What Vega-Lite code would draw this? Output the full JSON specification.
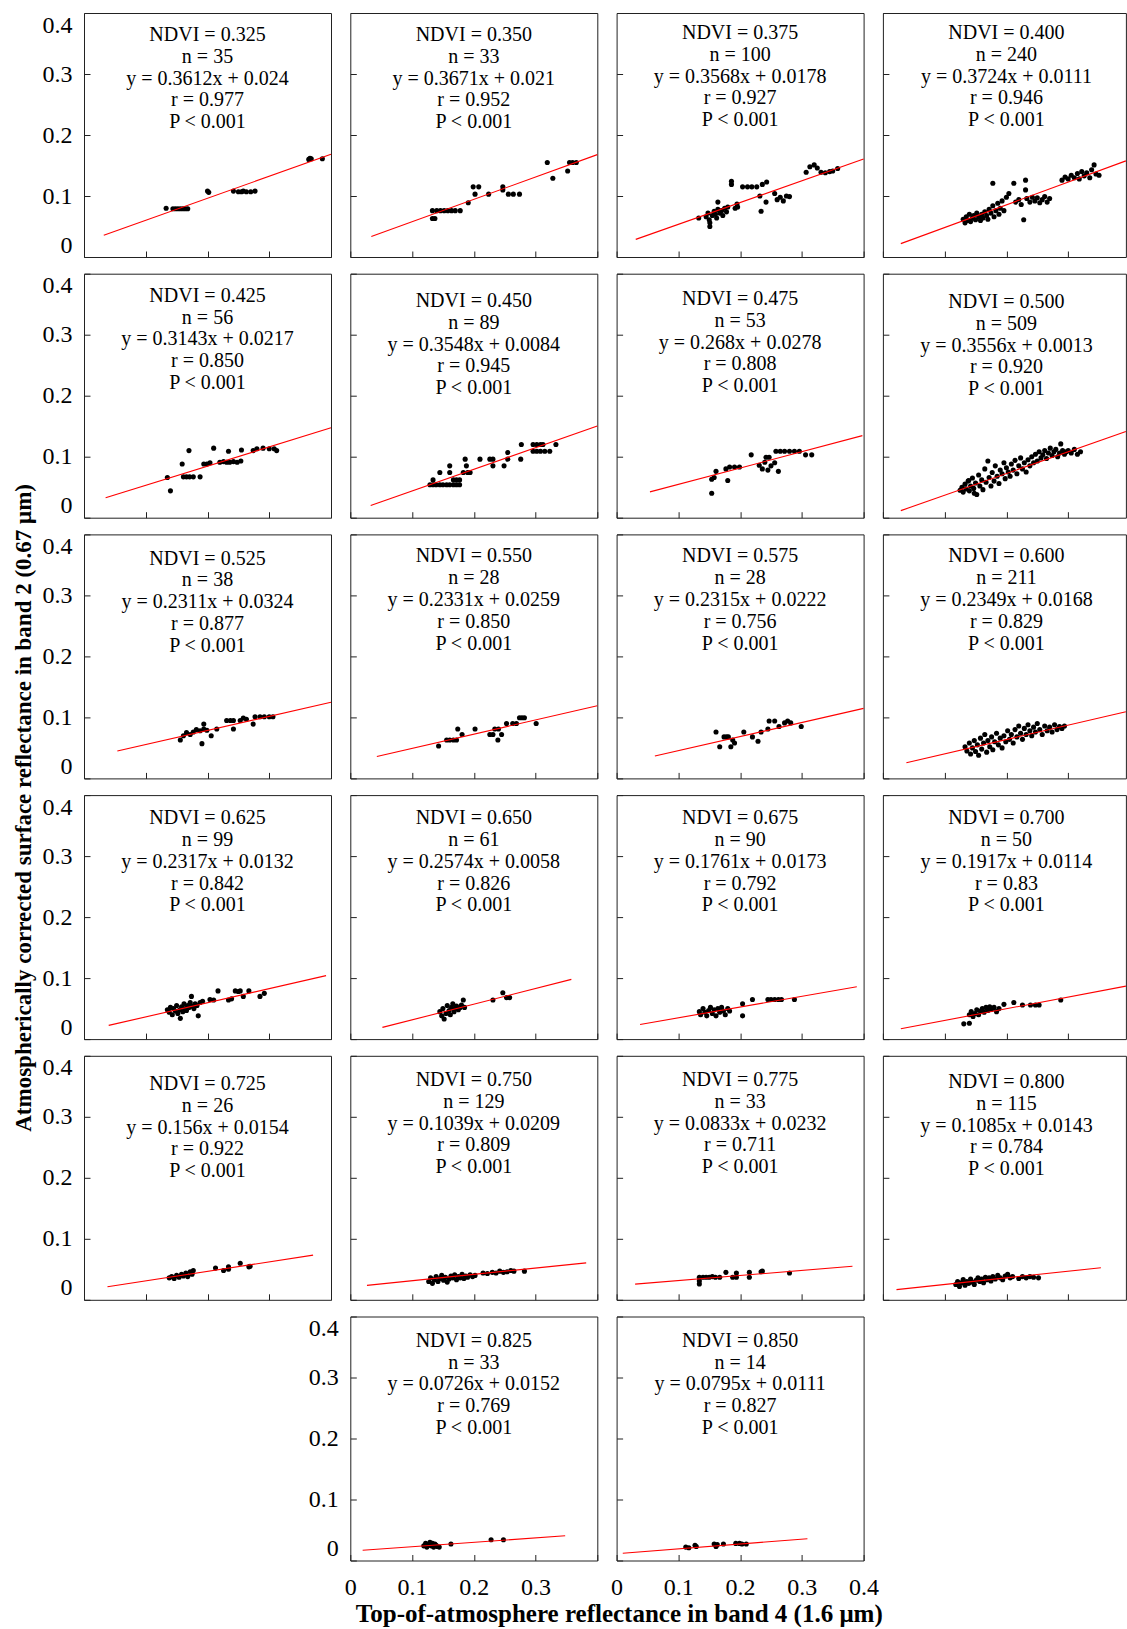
{"$schema":"https://vega.github.io/schema/vega-lite/v6.json","padding":{"left":11,"top":12,"right":0,"bottom":0},"autosize":{"type":"pad"},"bounds":"flush","columns":4,"spacing":{"row":16.7,"column":19.3},
"datasets":{
"lab":[
{"p":"0.325","t":"NDVI = 0.325\nn = 35\ny = 0.3612x + 0.024\nr = 0.977\nP < 0.001"},
{"p":"0.350","t":"NDVI = 0.350\nn = 33\ny = 0.3671x + 0.021\nr = 0.952\nP < 0.001"},
{"p":"0.375","t":"NDVI = 0.375\nn = 100\ny = 0.3568x + 0.0178\nr = 0.927\nP < 0.001"},
{"p":"0.400","t":"NDVI = 0.400\nn = 240\ny = 0.3724x + 0.0111\nr = 0.946\nP < 0.001"},
{"p":"0.425","t":"NDVI = 0.425\nn = 56\ny = 0.3143x + 0.0217\nr = 0.850\nP < 0.001"},
{"p":"0.450","t":"NDVI = 0.450\nn = 89\ny = 0.3548x + 0.0084\nr = 0.945\nP < 0.001"},
{"p":"0.475","t":"NDVI = 0.475\nn = 53\ny = 0.268x + 0.0278\nr = 0.808\nP < 0.001"},
{"p":"0.500","t":"NDVI = 0.500\nn = 509\ny = 0.3556x + 0.0013\nr = 0.920\nP < 0.001"},
{"p":"0.525","t":"NDVI = 0.525\nn = 38\ny = 0.2311x + 0.0324\nr = 0.877\nP < 0.001"},
{"p":"0.550","t":"NDVI = 0.550\nn = 28\ny = 0.2331x + 0.0259\nr = 0.850\nP < 0.001"},
{"p":"0.575","t":"NDVI = 0.575\nn = 28\ny = 0.2315x + 0.0222\nr = 0.756\nP < 0.001"},
{"p":"0.600","t":"NDVI = 0.600\nn = 211\ny = 0.2349x + 0.0168\nr = 0.829\nP < 0.001"},
{"p":"0.625","t":"NDVI = 0.625\nn = 99\ny = 0.2317x + 0.0132\nr = 0.842\nP < 0.001"},
{"p":"0.650","t":"NDVI = 0.650\nn = 61\ny = 0.2574x + 0.0058\nr = 0.826\nP < 0.001"},
{"p":"0.675","t":"NDVI = 0.675\nn = 90\ny = 0.1761x + 0.0173\nr = 0.792\nP < 0.001"},
{"p":"0.700","t":"NDVI = 0.700\nn = 50\ny = 0.1917x + 0.0114\nr = 0.83\nP < 0.001"},
{"p":"0.725","t":"NDVI = 0.725\nn = 26\ny = 0.156x + 0.0154\nr = 0.922\nP < 0.001"},
{"p":"0.750","t":"NDVI = 0.750\nn = 129\ny = 0.1039x + 0.0209\nr = 0.809\nP < 0.001"},
{"p":"0.775","t":"NDVI = 0.775\nn = 33\ny = 0.0833x + 0.0232\nr = 0.711\nP < 0.001"},
{"p":"0.800","t":"NDVI = 0.800\nn = 115\ny = 0.1085x + 0.0143\nr = 0.784\nP < 0.001"},
{"p":"0.825","t":"NDVI = 0.825\nn = 33\ny = 0.0726x + 0.0152\nr = 0.769\nP < 0.001"},
{"p":"0.850","t":"NDVI = 0.850\nn = 14\ny = 0.0795x + 0.0111\nr = 0.827\nP < 0.001"}],
"fit":[
{"p":"0.325","x1":0.032,"y1":0.0356,"x2":0.4,"y2":0.1685},
{"p":"0.350","x1":0.034,"y1":0.0335,"x2":0.4,"y2":0.1678},
{"p":"0.375","x1":0.031,"y1":0.0289,"x2":0.4,"y2":0.1605},
{"p":"0.400","x1":0.029,"y1":0.0219,"x2":0.3935,"y2":0.1576},
{"p":"0.425","x1":0.035,"y1":0.0327,"x2":0.4,"y2":0.1474},
{"p":"0.450","x1":0.033,"y1":0.0201,"x2":0.4,"y2":0.1503},
{"p":"0.475","x1":0.054,"y1":0.0423,"x2":0.398,"y2":0.1345},
{"p":"0.500","x1":0.029,"y1":0.0116,"x2":0.3935,"y2":0.1412},
{"p":"0.525","x1":0.054,"y1":0.0449,"x2":0.4,"y2":0.1248},
{"p":"0.550","x1":0.043,"y1":0.0359,"x2":0.4,"y2":0.1191},
{"p":"0.575","x1":0.062,"y1":0.0366,"x2":0.4,"y2":0.1148},
{"p":"0.600","x1":0.038,"y1":0.0257,"x2":0.3935,"y2":0.1092},
{"p":"0.625","x1":0.040,"y1":0.0225,"x2":0.392,"y2":0.104},
{"p":"0.650","x1":0.052,"y1":0.0192,"x2":0.358,"y2":0.0979},
{"p":"0.675","x1":0.038,"y1":0.024,"x2":0.389,"y2":0.0858},
{"p":"0.700","x1":0.029,"y1":0.017,"x2":0.3935,"y2":0.0868},
{"p":"0.725","x1":0.038,"y1":0.0213,"x2":0.371,"y2":0.0733},
{"p":"0.750","x1":0.027,"y1":0.0237,"x2":0.382,"y2":0.0606},
{"p":"0.775","x1":0.030,"y1":0.0257,"x2":0.382,"y2":0.055},
{"p":"0.800","x1":0.022,"y1":0.0167,"x2":0.353,"y2":0.0526},
{"p":"0.825","x1":0.020,"y1":0.0167,"x2":0.348,"y2":0.0405},
{"p":"0.850","x1":0.010,"y1":0.0119,"x2":0.309,"y2":0.0357}],
"pts":[
{"p":"0.325","x":0.133,"y":0.080},{"p":"0.325","x":0.144,"y":0.079},{"p":"0.325","x":0.148,"y":0.079},{"p":"0.325","x":0.152,"y":0.079},{"p":"0.325","x":0.156,"y":0.079},{"p":"0.325","x":0.160,"y":0.079},{"p":"0.325","x":0.164,"y":0.079},{"p":"0.325","x":0.168,"y":0.079},{"p":"0.325","x":0.200,"y":0.108},{"p":"0.325","x":0.202,"y":0.106},{"p":"0.325","x":0.242,"y":0.108},{"p":"0.325","x":0.250,"y":0.107},{"p":"0.325","x":0.255,"y":0.107},{"p":"0.325","x":0.258,"y":0.108},{"p":"0.325","x":0.263,"y":0.107},{"p":"0.325","x":0.270,"y":0.107},{"p":"0.325","x":0.277,"y":0.108},{"p":"0.325","x":0.364,"y":0.160},{"p":"0.325","x":0.366,"y":0.162},{"p":"0.325","x":0.368,"y":0.161},{"p":"0.325","x":0.386,"y":0.161},
{"p":"0.350","x":0.133,"y":0.076},{"p":"0.350","x":0.140,"y":0.076},{"p":"0.350","x":0.146,"y":0.076},{"p":"0.350","x":0.152,"y":0.076},{"p":"0.350","x":0.158,"y":0.076},{"p":"0.350","x":0.164,"y":0.076},{"p":"0.350","x":0.170,"y":0.076},{"p":"0.350","x":0.178,"y":0.076},{"p":"0.350","x":0.133,"y":0.063},{"p":"0.350","x":0.137,"y":0.063},{"p":"0.350","x":0.191,"y":0.089},{"p":"0.350","x":0.199,"y":0.115},{"p":"0.350","x":0.208,"y":0.115},{"p":"0.350","x":0.202,"y":0.103},{"p":"0.350","x":0.224,"y":0.103},{"p":"0.350","x":0.247,"y":0.115},{"p":"0.350","x":0.247,"y":0.110},{"p":"0.350","x":0.256,"y":0.103},{"p":"0.350","x":0.264,"y":0.103},{"p":"0.350","x":0.274,"y":0.103},{"p":"0.350","x":0.319,"y":0.155},{"p":"0.350","x":0.328,"y":0.129},{"p":"0.350","x":0.352,"y":0.141},{"p":"0.350","x":0.355,"y":0.155},{"p":"0.350","x":0.360,"y":0.155},{"p":"0.350","x":0.366,"y":0.155},
{"p":"0.375","x":0.133,"y":0.064},{"p":"0.375","x":0.145,"y":0.066},{"p":"0.375","x":0.148,"y":0.072},{"p":"0.375","x":0.150,"y":0.061},{"p":"0.375","x":0.151,"y":0.056},{"p":"0.375","x":0.151,"y":0.050},{"p":"0.375","x":0.155,"y":0.068},{"p":"0.375","x":0.158,"y":0.075},{"p":"0.375","x":0.160,"y":0.070},{"p":"0.375","x":0.162,"y":0.064},{"p":"0.375","x":0.164,"y":0.078},{"p":"0.375","x":0.164,"y":0.090},{"p":"0.375","x":0.167,"y":0.072},{"p":"0.375","x":0.170,"y":0.076},{"p":"0.375","x":0.172,"y":0.068},{"p":"0.375","x":0.175,"y":0.080},{"p":"0.375","x":0.178,"y":0.074},{"p":"0.375","x":0.180,"y":0.082},{"p":"0.375","x":0.186,"y":0.124},{"p":"0.375","x":0.186,"y":0.119},{"p":"0.375","x":0.192,"y":0.080},{"p":"0.375","x":0.195,"y":0.087},{"p":"0.375","x":0.196,"y":0.082},{"p":"0.375","x":0.204,"y":0.115},{"p":"0.375","x":0.212,"y":0.115},{"p":"0.375","x":0.219,"y":0.115},{"p":"0.375","x":0.227,"y":0.115},{"p":"0.375","x":0.236,"y":0.119},{"p":"0.375","x":0.243,"y":0.123},{"p":"0.375","x":0.232,"y":0.100},{"p":"0.375","x":0.234,"y":0.075},{"p":"0.375","x":0.242,"y":0.090},{"p":"0.375","x":0.256,"y":0.104},{"p":"0.375","x":0.260,"y":0.094},{"p":"0.375","x":0.265,"y":0.098},{"p":"0.375","x":0.270,"y":0.092},{"p":"0.375","x":0.275,"y":0.100},{"p":"0.375","x":0.280,"y":0.099},{"p":"0.375","x":0.307,"y":0.139},{"p":"0.375","x":0.313,"y":0.148},{"p":"0.375","x":0.320,"y":0.151},{"p":"0.375","x":0.325,"y":0.146},{"p":"0.375","x":0.331,"y":0.139},{"p":"0.375","x":0.338,"y":0.138},{"p":"0.375","x":0.345,"y":0.140},{"p":"0.375","x":0.350,"y":0.141},{"p":"0.375","x":0.358,"y":0.145},
{"p":"0.400","x":0.130,"y":0.062},{"p":"0.400","x":0.133,"y":0.056},{"p":"0.400","x":0.135,"y":0.066},{"p":"0.400","x":0.138,"y":0.060},{"p":"0.400","x":0.140,"y":0.070},{"p":"0.400","x":0.142,"y":0.058},{"p":"0.400","x":0.145,"y":0.064},{"p":"0.400","x":0.147,"y":0.068},{"p":"0.400","x":0.150,"y":0.061},{"p":"0.400","x":0.152,"y":0.072},{"p":"0.400","x":0.155,"y":0.066},{"p":"0.400","x":0.158,"y":0.060},{"p":"0.400","x":0.160,"y":0.070},{"p":"0.400","x":0.162,"y":0.064},{"p":"0.400","x":0.165,"y":0.074},{"p":"0.400","x":0.168,"y":0.068},{"p":"0.400","x":0.170,"y":0.062},{"p":"0.400","x":0.172,"y":0.078},{"p":"0.400","x":0.175,"y":0.072},{"p":"0.400","x":0.178,"y":0.084},{"p":"0.400","x":0.178,"y":0.121},{"p":"0.400","x":0.180,"y":0.066},{"p":"0.400","x":0.183,"y":0.076},{"p":"0.400","x":0.186,"y":0.088},{"p":"0.400","x":0.188,"y":0.070},{"p":"0.400","x":0.190,"y":0.080},{"p":"0.400","x":0.193,"y":0.092},{"p":"0.400","x":0.196,"y":0.076},{"p":"0.400","x":0.200,"y":0.098},{"p":"0.400","x":0.204,"y":0.104},{"p":"0.400","x":0.212,"y":0.121},{"p":"0.400","x":0.215,"y":0.090},{"p":"0.400","x":0.220,"y":0.094},{"p":"0.400","x":0.224,"y":0.086},{"p":"0.400","x":0.228,"y":0.061},{"p":"0.400","x":0.231,"y":0.126},{"p":"0.400","x":0.231,"y":0.110},{"p":"0.400","x":0.233,"y":0.096},{"p":"0.400","x":0.238,"y":0.090},{"p":"0.400","x":0.242,"y":0.098},{"p":"0.400","x":0.246,"y":0.092},{"p":"0.400","x":0.250,"y":0.097},{"p":"0.400","x":0.254,"y":0.089},{"p":"0.400","x":0.258,"y":0.094},{"p":"0.400","x":0.262,"y":0.099},{"p":"0.400","x":0.266,"y":0.090},{"p":"0.400","x":0.270,"y":0.096},{"p":"0.400","x":0.290,"y":0.126},{"p":"0.400","x":0.295,"y":0.131},{"p":"0.400","x":0.300,"y":0.128},{"p":"0.400","x":0.305,"y":0.134},{"p":"0.400","x":0.310,"y":0.130},{"p":"0.400","x":0.315,"y":0.137},{"p":"0.400","x":0.318,"y":0.128},{"p":"0.400","x":0.322,"y":0.140},{"p":"0.400","x":0.326,"y":0.133},{"p":"0.400","x":0.330,"y":0.138},{"p":"0.400","x":0.335,"y":0.130},{"p":"0.400","x":0.338,"y":0.143},{"p":"0.400","x":0.342,"y":0.151},{"p":"0.400","x":0.345,"y":0.136},{"p":"0.400","x":0.350,"y":0.134},
{"p":"0.425","x":0.135,"y":0.066},{"p":"0.425","x":0.140,"y":0.044},{"p":"0.425","x":0.159,"y":0.088},{"p":"0.425","x":0.161,"y":0.067},{"p":"0.425","x":0.166,"y":0.067},{"p":"0.425","x":0.171,"y":0.067},{"p":"0.425","x":0.177,"y":0.067},{"p":"0.425","x":0.170,"y":0.110},{"p":"0.425","x":0.188,"y":0.067},{"p":"0.425","x":0.194,"y":0.088},{"p":"0.425","x":0.199,"y":0.088},{"p":"0.425","x":0.204,"y":0.090},{"p":"0.425","x":0.210,"y":0.114},{"p":"0.425","x":0.220,"y":0.091},{"p":"0.425","x":0.226,"y":0.092},{"p":"0.425","x":0.231,"y":0.091},{"p":"0.425","x":0.236,"y":0.091},{"p":"0.425","x":0.242,"y":0.092},{"p":"0.425","x":0.248,"y":0.091},{"p":"0.425","x":0.254,"y":0.093},{"p":"0.425","x":0.234,"y":0.109},{"p":"0.425","x":0.255,"y":0.111},{"p":"0.425","x":0.274,"y":0.110},{"p":"0.425","x":0.280,"y":0.113},{"p":"0.425","x":0.290,"y":0.114},{"p":"0.425","x":0.300,"y":0.113},{"p":"0.425","x":0.308,"y":0.113},{"p":"0.425","x":0.312,"y":0.110},
{"p":"0.450","x":0.129,"y":0.054},{"p":"0.450","x":0.134,"y":0.054},{"p":"0.450","x":0.139,"y":0.054},{"p":"0.450","x":0.145,"y":0.054},{"p":"0.450","x":0.150,"y":0.054},{"p":"0.450","x":0.156,"y":0.054},{"p":"0.450","x":0.161,"y":0.054},{"p":"0.450","x":0.167,"y":0.054},{"p":"0.450","x":0.172,"y":0.054},{"p":"0.450","x":0.177,"y":0.054},{"p":"0.450","x":0.134,"y":0.062},{"p":"0.450","x":0.145,"y":0.074},{"p":"0.450","x":0.161,"y":0.074},{"p":"0.450","x":0.161,"y":0.085},{"p":"0.450","x":0.167,"y":0.062},{"p":"0.450","x":0.172,"y":0.062},{"p":"0.450","x":0.177,"y":0.062},{"p":"0.450","x":0.186,"y":0.096},{"p":"0.450","x":0.183,"y":0.074},{"p":"0.450","x":0.190,"y":0.074},{"p":"0.450","x":0.194,"y":0.074},{"p":"0.450","x":0.188,"y":0.085},{"p":"0.450","x":0.210,"y":0.096},{"p":"0.450","x":0.226,"y":0.096},{"p":"0.450","x":0.231,"y":0.096},{"p":"0.450","x":0.231,"y":0.085},{"p":"0.450","x":0.249,"y":0.085},{"p":"0.450","x":0.255,"y":0.096},{"p":"0.450","x":0.255,"y":0.107},{"p":"0.450","x":0.276,"y":0.096},{"p":"0.450","x":0.277,"y":0.120},{"p":"0.450","x":0.296,"y":0.120},{"p":"0.450","x":0.302,"y":0.120},{"p":"0.450","x":0.308,"y":0.120},{"p":"0.450","x":0.312,"y":0.120},{"p":"0.450","x":0.296,"y":0.109},{"p":"0.450","x":0.302,"y":0.109},{"p":"0.450","x":0.308,"y":0.109},{"p":"0.450","x":0.315,"y":0.109},{"p":"0.450","x":0.323,"y":0.109},{"p":"0.450","x":0.333,"y":0.120},
{"p":"0.475","x":0.154,"y":0.040},{"p":"0.475","x":0.154,"y":0.063},{"p":"0.475","x":0.158,"y":0.066},{"p":"0.475","x":0.161,"y":0.076},{"p":"0.475","x":0.177,"y":0.080},{"p":"0.475","x":0.183,"y":0.083},{"p":"0.475","x":0.180,"y":0.061},{"p":"0.475","x":0.191,"y":0.083},{"p":"0.475","x":0.199,"y":0.083},{"p":"0.475","x":0.218,"y":0.103},{"p":"0.475","x":0.231,"y":0.086},{"p":"0.475","x":0.236,"y":0.080},{"p":"0.475","x":0.240,"y":0.091},{"p":"0.475","x":0.245,"y":0.078},{"p":"0.475","x":0.250,"y":0.085},{"p":"0.475","x":0.256,"y":0.090},{"p":"0.475","x":0.262,"y":0.076},{"p":"0.475","x":0.242,"y":0.099},{"p":"0.475","x":0.247,"y":0.099},{"p":"0.475","x":0.258,"y":0.109},{"p":"0.475","x":0.265,"y":0.109},{"p":"0.475","x":0.272,"y":0.109},{"p":"0.475","x":0.280,"y":0.109},{"p":"0.475","x":0.288,"y":0.109},{"p":"0.475","x":0.296,"y":0.109},{"p":"0.475","x":0.306,"y":0.103},{"p":"0.475","x":0.316,"y":0.103},
{"p":"0.500","x":0.125,"y":0.045},{"p":"0.500","x":0.128,"y":0.050},{"p":"0.500","x":0.130,"y":0.042},{"p":"0.500","x":0.133,"y":0.055},{"p":"0.500","x":0.135,"y":0.047},{"p":"0.500","x":0.138,"y":0.060},{"p":"0.500","x":0.140,"y":0.044},{"p":"0.500","x":0.142,"y":0.052},{"p":"0.500","x":0.145,"y":0.065},{"p":"0.500","x":0.147,"y":0.048},{"p":"0.500","x":0.150,"y":0.057},{"p":"0.500","x":0.152,"y":0.038},{"p":"0.500","x":0.155,"y":0.070},{"p":"0.500","x":0.157,"y":0.052},{"p":"0.500","x":0.160,"y":0.062},{"p":"0.500","x":0.162,"y":0.046},{"p":"0.500","x":0.165,"y":0.080},{"p":"0.500","x":0.167,"y":0.058},{"p":"0.500","x":0.170,"y":0.093},{"p":"0.500","x":0.172,"y":0.066},{"p":"0.500","x":0.175,"y":0.052},{"p":"0.500","x":0.177,"y":0.074},{"p":"0.500","x":0.180,"y":0.060},{"p":"0.500","x":0.182,"y":0.085},{"p":"0.500","x":0.185,"y":0.068},{"p":"0.500","x":0.188,"y":0.056},{"p":"0.500","x":0.190,"y":0.078},{"p":"0.500","x":0.193,"y":0.072},{"p":"0.500","x":0.196,"y":0.090},{"p":"0.500","x":0.198,"y":0.064},{"p":"0.500","x":0.200,"y":0.082},{"p":"0.500","x":0.203,"y":0.075},{"p":"0.500","x":0.206,"y":0.068},{"p":"0.500","x":0.208,"y":0.088},{"p":"0.500","x":0.211,"y":0.078},{"p":"0.500","x":0.214,"y":0.094},{"p":"0.500","x":0.217,"y":0.072},{"p":"0.500","x":0.220,"y":0.085},{"p":"0.500","x":0.223,"y":0.098},{"p":"0.500","x":0.226,"y":0.080},{"p":"0.500","x":0.229,"y":0.090},{"p":"0.500","x":0.232,"y":0.075},{"p":"0.500","x":0.235,"y":0.095},{"p":"0.500","x":0.238,"y":0.085},{"p":"0.500","x":0.241,"y":0.100},{"p":"0.500","x":0.244,"y":0.090},{"p":"0.500","x":0.247,"y":0.104},{"p":"0.500","x":0.250,"y":0.093},{"p":"0.500","x":0.253,"y":0.108},{"p":"0.500","x":0.256,"y":0.098},{"p":"0.500","x":0.259,"y":0.103},{"p":"0.500","x":0.262,"y":0.110},{"p":"0.500","x":0.265,"y":0.097},{"p":"0.500","x":0.268,"y":0.106},{"p":"0.500","x":0.271,"y":0.114},{"p":"0.500","x":0.274,"y":0.102},{"p":"0.500","x":0.277,"y":0.108},{"p":"0.500","x":0.280,"y":0.112},{"p":"0.500","x":0.283,"y":0.100},{"p":"0.500","x":0.286,"y":0.106},{"p":"0.500","x":0.288,"y":0.121},{"p":"0.500","x":0.291,"y":0.110},{"p":"0.500","x":0.294,"y":0.104},{"p":"0.500","x":0.297,"y":0.108},{"p":"0.500","x":0.300,"y":0.110},{"p":"0.500","x":0.305,"y":0.106},{"p":"0.500","x":0.310,"y":0.112},{"p":"0.500","x":0.315,"y":0.104},{"p":"0.500","x":0.320,"y":0.108},{"p":"0.500","x":0.139,"y":0.061},{"p":"0.500","x":0.148,"y":0.040},
{"p":"0.525","x":0.156,"y":0.063},{"p":"0.525","x":0.161,"y":0.070},{"p":"0.525","x":0.166,"y":0.075},{"p":"0.525","x":0.172,"y":0.072},{"p":"0.525","x":0.177,"y":0.076},{"p":"0.525","x":0.182,"y":0.080},{"p":"0.525","x":0.188,"y":0.078},{"p":"0.525","x":0.194,"y":0.081},{"p":"0.525","x":0.199,"y":0.079},{"p":"0.525","x":0.191,"y":0.057},{"p":"0.525","x":0.194,"y":0.089},{"p":"0.525","x":0.206,"y":0.070},{"p":"0.525","x":0.215,"y":0.081},{"p":"0.525","x":0.231,"y":0.095},{"p":"0.525","x":0.237,"y":0.095},{"p":"0.525","x":0.242,"y":0.095},{"p":"0.525","x":0.242,"y":0.081},{"p":"0.525","x":0.253,"y":0.095},{"p":"0.525","x":0.258,"y":0.099},{"p":"0.525","x":0.263,"y":0.097},{"p":"0.525","x":0.274,"y":0.089},{"p":"0.525","x":0.277,"y":0.101},{"p":"0.525","x":0.285,"y":0.101},{"p":"0.525","x":0.292,"y":0.101},{"p":"0.525","x":0.300,"y":0.101},{"p":"0.525","x":0.306,"y":0.101},
{"p":"0.550","x":0.143,"y":0.053},{"p":"0.550","x":0.156,"y":0.063},{"p":"0.550","x":0.161,"y":0.063},{"p":"0.550","x":0.167,"y":0.063},{"p":"0.550","x":0.172,"y":0.063},{"p":"0.550","x":0.174,"y":0.081},{"p":"0.550","x":0.181,"y":0.072},{"p":"0.550","x":0.202,"y":0.081},{"p":"0.550","x":0.226,"y":0.072},{"p":"0.550","x":0.231,"y":0.072},{"p":"0.550","x":0.234,"y":0.081},{"p":"0.550","x":0.240,"y":0.081},{"p":"0.550","x":0.239,"y":0.063},{"p":"0.550","x":0.245,"y":0.072},{"p":"0.550","x":0.253,"y":0.090},{"p":"0.550","x":0.263,"y":0.090},{"p":"0.550","x":0.269,"y":0.090},{"p":"0.550","x":0.274,"y":0.0995},{"p":"0.550","x":0.278,"y":0.0995},{"p":"0.550","x":0.282,"y":0.0995},{"p":"0.550","x":0.301,"y":0.090},
{"p":"0.575","x":0.161,"y":0.076},{"p":"0.575","x":0.167,"y":0.052},{"p":"0.575","x":0.174,"y":0.068},{"p":"0.575","x":0.178,"y":0.068},{"p":"0.575","x":0.181,"y":0.068},{"p":"0.575","x":0.185,"y":0.052},{"p":"0.575","x":0.188,"y":0.063},{"p":"0.575","x":0.191,"y":0.058},{"p":"0.575","x":0.206,"y":0.076},{"p":"0.575","x":0.220,"y":0.068},{"p":"0.575","x":0.229,"y":0.061},{"p":"0.575","x":0.234,"y":0.076},{"p":"0.575","x":0.245,"y":0.081},{"p":"0.575","x":0.247,"y":0.094},{"p":"0.575","x":0.256,"y":0.094},{"p":"0.575","x":0.263,"y":0.085},{"p":"0.575","x":0.272,"y":0.091},{"p":"0.575","x":0.277,"y":0.094},{"p":"0.575","x":0.282,"y":0.091},{"p":"0.575","x":0.299,"y":0.085},
{"p":"0.600","x":0.133,"y":0.052},{"p":"0.600","x":0.136,"y":0.045},{"p":"0.600","x":0.140,"y":0.058},{"p":"0.600","x":0.142,"y":0.040},{"p":"0.600","x":0.145,"y":0.050},{"p":"0.600","x":0.148,"y":0.062},{"p":"0.600","x":0.150,"y":0.044},{"p":"0.600","x":0.153,"y":0.055},{"p":"0.600","x":0.155,"y":0.038},{"p":"0.600","x":0.158,"y":0.066},{"p":"0.600","x":0.160,"y":0.048},{"p":"0.600","x":0.163,"y":0.058},{"p":"0.600","x":0.165,"y":0.072},{"p":"0.600","x":0.168,"y":0.043},{"p":"0.600","x":0.170,"y":0.062},{"p":"0.600","x":0.173,"y":0.052},{"p":"0.600","x":0.176,"y":0.068},{"p":"0.600","x":0.178,"y":0.047},{"p":"0.600","x":0.181,"y":0.060},{"p":"0.600","x":0.184,"y":0.074},{"p":"0.600","x":0.187,"y":0.055},{"p":"0.600","x":0.190,"y":0.066},{"p":"0.600","x":0.193,"y":0.050},{"p":"0.600","x":0.196,"y":0.070},{"p":"0.600","x":0.199,"y":0.060},{"p":"0.600","x":0.202,"y":0.078},{"p":"0.600","x":0.205,"y":0.064},{"p":"0.600","x":0.208,"y":0.072},{"p":"0.600","x":0.211,"y":0.058},{"p":"0.600","x":0.214,"y":0.080},{"p":"0.600","x":0.217,"y":0.068},{"p":"0.600","x":0.220,"y":0.086},{"p":"0.600","x":0.223,"y":0.074},{"p":"0.600","x":0.226,"y":0.064},{"p":"0.600","x":0.229,"y":0.082},{"p":"0.600","x":0.232,"y":0.072},{"p":"0.600","x":0.235,"y":0.088},{"p":"0.600","x":0.238,"y":0.078},{"p":"0.600","x":0.241,"y":0.070},{"p":"0.600","x":0.244,"y":0.084},{"p":"0.600","x":0.247,"y":0.076},{"p":"0.600","x":0.250,"y":0.090},{"p":"0.600","x":0.254,"y":0.080},{"p":"0.600","x":0.258,"y":0.072},{"p":"0.600","x":0.262,"y":0.086},{"p":"0.600","x":0.266,"y":0.078},{"p":"0.600","x":0.270,"y":0.084},{"p":"0.600","x":0.274,"y":0.076},{"p":"0.600","x":0.278,"y":0.088},{"p":"0.600","x":0.282,"y":0.080},{"p":"0.600","x":0.286,"y":0.085},{"p":"0.600","x":0.290,"y":0.082},{"p":"0.600","x":0.294,"y":0.086},
{"p":"0.625","x":0.135,"y":0.048},{"p":"0.625","x":0.138,"y":0.044},{"p":"0.625","x":0.140,"y":0.052},{"p":"0.625","x":0.143,"y":0.040},{"p":"0.625","x":0.145,"y":0.050},{"p":"0.625","x":0.148,"y":0.046},{"p":"0.625","x":0.150,"y":0.055},{"p":"0.625","x":0.152,"y":0.042},{"p":"0.625","x":0.155,"y":0.048},{"p":"0.625","x":0.156,"y":0.034},{"p":"0.625","x":0.158,"y":0.053},{"p":"0.625","x":0.160,"y":0.045},{"p":"0.625","x":0.162,"y":0.058},{"p":"0.625","x":0.164,"y":0.050},{"p":"0.625","x":0.166,"y":0.047},{"p":"0.625","x":0.168,"y":0.055},{"p":"0.625","x":0.170,"y":0.052},{"p":"0.625","x":0.172,"y":0.060},{"p":"0.625","x":0.174,"y":0.070},{"p":"0.625","x":0.176,"y":0.054},{"p":"0.625","x":0.178,"y":0.050},{"p":"0.625","x":0.180,"y":0.058},{"p":"0.625","x":0.183,"y":0.055},{"p":"0.625","x":0.185,"y":0.038},{"p":"0.625","x":0.188,"y":0.060},{"p":"0.625","x":0.192,"y":0.062},{"p":"0.625","x":0.204,"y":0.065},{"p":"0.625","x":0.210,"y":0.064},{"p":"0.625","x":0.217,"y":0.079},{"p":"0.625","x":0.234,"y":0.064},{"p":"0.625","x":0.239,"y":0.066},{"p":"0.625","x":0.245,"y":0.079},{"p":"0.625","x":0.250,"y":0.078},{"p":"0.625","x":0.253,"y":0.079},{"p":"0.625","x":0.258,"y":0.070},{"p":"0.625","x":0.267,"y":0.079},{"p":"0.625","x":0.285,"y":0.070},{"p":"0.625","x":0.292,"y":0.075},
{"p":"0.650","x":0.145,"y":0.045},{"p":"0.650","x":0.148,"y":0.038},{"p":"0.650","x":0.150,"y":0.050},{"p":"0.650","x":0.152,"y":0.033},{"p":"0.650","x":0.155,"y":0.042},{"p":"0.650","x":0.157,"y":0.055},{"p":"0.650","x":0.160,"y":0.047},{"p":"0.650","x":0.162,"y":0.040},{"p":"0.650","x":0.164,"y":0.052},{"p":"0.650","x":0.166,"y":0.058},{"p":"0.650","x":0.168,"y":0.045},{"p":"0.650","x":0.170,"y":0.050},{"p":"0.650","x":0.172,"y":0.054},{"p":"0.650","x":0.175,"y":0.048},{"p":"0.650","x":0.178,"y":0.052},{"p":"0.650","x":0.180,"y":0.056},{"p":"0.650","x":0.183,"y":0.064},{"p":"0.650","x":0.185,"y":0.052},{"p":"0.650","x":0.231,"y":0.064},{"p":"0.650","x":0.247,"y":0.076},{"p":"0.650","x":0.253,"y":0.068},{"p":"0.650","x":0.258,"y":0.068},
{"p":"0.675","x":0.134,"y":0.045},{"p":"0.675","x":0.136,"y":0.040},{"p":"0.675","x":0.140,"y":0.050},{"p":"0.675","x":0.143,"y":0.044},{"p":"0.675","x":0.146,"y":0.038},{"p":"0.675","x":0.149,"y":0.047},{"p":"0.675","x":0.152,"y":0.052},{"p":"0.675","x":0.155,"y":0.042},{"p":"0.675","x":0.158,"y":0.048},{"p":"0.675","x":0.161,"y":0.038},{"p":"0.675","x":0.164,"y":0.050},{"p":"0.675","x":0.167,"y":0.044},{"p":"0.675","x":0.170,"y":0.052},{"p":"0.675","x":0.173,"y":0.046},{"p":"0.675","x":0.176,"y":0.040},{"p":"0.675","x":0.180,"y":0.050},{"p":"0.675","x":0.183,"y":0.046},{"p":"0.675","x":0.204,"y":0.058},{"p":"0.675","x":0.204,"y":0.038},{"p":"0.675","x":0.220,"y":0.065},{"p":"0.675","x":0.245,"y":0.065},{"p":"0.675","x":0.250,"y":0.065},{"p":"0.675","x":0.256,"y":0.065},{"p":"0.675","x":0.262,"y":0.065},{"p":"0.675","x":0.267,"y":0.065},{"p":"0.675","x":0.288,"y":0.065},
{"p":"0.700","x":0.131,"y":0.025},{"p":"0.700","x":0.140,"y":0.026},{"p":"0.700","x":0.140,"y":0.040},{"p":"0.700","x":0.143,"y":0.045},{"p":"0.700","x":0.146,"y":0.037},{"p":"0.700","x":0.149,"y":0.042},{"p":"0.700","x":0.152,"y":0.048},{"p":"0.700","x":0.155,"y":0.040},{"p":"0.700","x":0.158,"y":0.046},{"p":"0.700","x":0.161,"y":0.050},{"p":"0.700","x":0.164,"y":0.044},{"p":"0.700","x":0.167,"y":0.052},{"p":"0.700","x":0.170,"y":0.047},{"p":"0.700","x":0.173,"y":0.053},{"p":"0.700","x":0.176,"y":0.049},{"p":"0.700","x":0.180,"y":0.052},{"p":"0.700","x":0.184,"y":0.045},{"p":"0.700","x":0.188,"y":0.050},{"p":"0.700","x":0.196,"y":0.057},{"p":"0.700","x":0.212,"y":0.060},{"p":"0.700","x":0.226,"y":0.056},{"p":"0.700","x":0.239,"y":0.056},{"p":"0.700","x":0.247,"y":0.056},{"p":"0.700","x":0.253,"y":0.056},{"p":"0.700","x":0.288,"y":0.064},
{"p":"0.725","x":0.138,"y":0.036},{"p":"0.725","x":0.142,"y":0.038},{"p":"0.725","x":0.146,"y":0.035},{"p":"0.725","x":0.150,"y":0.040},{"p":"0.725","x":0.154,"y":0.037},{"p":"0.725","x":0.158,"y":0.042},{"p":"0.725","x":0.161,"y":0.039},{"p":"0.725","x":0.165,"y":0.044},{"p":"0.725","x":0.168,"y":0.038},{"p":"0.725","x":0.172,"y":0.046},{"p":"0.725","x":0.175,"y":0.042},{"p":"0.725","x":0.177,"y":0.048},{"p":"0.725","x":0.213,"y":0.052},{"p":"0.725","x":0.226,"y":0.048},{"p":"0.725","x":0.234,"y":0.054},{"p":"0.725","x":0.234,"y":0.050},{"p":"0.725","x":0.253,"y":0.060},{"p":"0.725","x":0.269,"y":0.055},{"p":"0.725","x":0.267,"y":0.054},
{"p":"0.750","x":0.127,"y":0.030},{"p":"0.750","x":0.130,"y":0.036},{"p":"0.750","x":0.133,"y":0.027},{"p":"0.750","x":0.136,"y":0.033},{"p":"0.750","x":0.139,"y":0.038},{"p":"0.750","x":0.142,"y":0.030},{"p":"0.750","x":0.145,"y":0.035},{"p":"0.750","x":0.148,"y":0.040},{"p":"0.750","x":0.151,"y":0.032},{"p":"0.750","x":0.154,"y":0.037},{"p":"0.750","x":0.157,"y":0.029},{"p":"0.750","x":0.160,"y":0.034},{"p":"0.750","x":0.163,"y":0.039},{"p":"0.750","x":0.166,"y":0.036},{"p":"0.750","x":0.169,"y":0.041},{"p":"0.750","x":0.172,"y":0.033},{"p":"0.750","x":0.175,"y":0.038},{"p":"0.750","x":0.178,"y":0.036},{"p":"0.750","x":0.181,"y":0.042},{"p":"0.750","x":0.184,"y":0.035},{"p":"0.750","x":0.187,"y":0.039},{"p":"0.750","x":0.190,"y":0.037},{"p":"0.750","x":0.194,"y":0.041},{"p":"0.750","x":0.198,"y":0.038},{"p":"0.750","x":0.202,"y":0.040},{"p":"0.750","x":0.215,"y":0.044},{"p":"0.750","x":0.222,"y":0.043},{"p":"0.750","x":0.230,"y":0.045},{"p":"0.750","x":0.236,"y":0.044},{"p":"0.750","x":0.242,"y":0.047},{"p":"0.750","x":0.248,"y":0.045},{"p":"0.750","x":0.254,"y":0.046},{"p":"0.750","x":0.260,"y":0.048},{"p":"0.750","x":0.265,"y":0.047},{"p":"0.750","x":0.282,"y":0.047},
{"p":"0.775","x":0.134,"y":0.037},{"p":"0.775","x":0.134,"y":0.026},{"p":"0.775","x":0.134,"y":0.031},{"p":"0.775","x":0.140,"y":0.037},{"p":"0.775","x":0.145,"y":0.037},{"p":"0.775","x":0.150,"y":0.037},{"p":"0.775","x":0.155,"y":0.038},{"p":"0.775","x":0.160,"y":0.037},{"p":"0.775","x":0.167,"y":0.037},{"p":"0.775","x":0.177,"y":0.045},{"p":"0.775","x":0.188,"y":0.037},{"p":"0.775","x":0.194,"y":0.037},{"p":"0.775","x":0.194,"y":0.044},{"p":"0.775","x":0.215,"y":0.037},{"p":"0.775","x":0.215,"y":0.045},{"p":"0.775","x":0.234,"y":0.046},{"p":"0.775","x":0.236,"y":0.047},{"p":"0.775","x":0.280,"y":0.044},
{"p":"0.800","x":0.118,"y":0.025},{"p":"0.800","x":0.121,"y":0.030},{"p":"0.800","x":0.124,"y":0.022},{"p":"0.800","x":0.127,"y":0.028},{"p":"0.800","x":0.130,"y":0.033},{"p":"0.800","x":0.133,"y":0.024},{"p":"0.800","x":0.136,"y":0.030},{"p":"0.800","x":0.139,"y":0.027},{"p":"0.800","x":0.142,"y":0.034},{"p":"0.800","x":0.145,"y":0.029},{"p":"0.800","x":0.148,"y":0.025},{"p":"0.800","x":0.151,"y":0.032},{"p":"0.800","x":0.154,"y":0.036},{"p":"0.800","x":0.157,"y":0.030},{"p":"0.800","x":0.160,"y":0.034},{"p":"0.800","x":0.163,"y":0.028},{"p":"0.800","x":0.166,"y":0.037},{"p":"0.800","x":0.169,"y":0.033},{"p":"0.800","x":0.172,"y":0.036},{"p":"0.800","x":0.175,"y":0.031},{"p":"0.800","x":0.178,"y":0.038},{"p":"0.800","x":0.182,"y":0.034},{"p":"0.800","x":0.186,"y":0.040},{"p":"0.800","x":0.190,"y":0.036},{"p":"0.800","x":0.194,"y":0.033},{"p":"0.800","x":0.198,"y":0.039},{"p":"0.800","x":0.202,"y":0.042},{"p":"0.800","x":0.206,"y":0.036},{"p":"0.800","x":0.210,"y":0.038},{"p":"0.800","x":0.220,"y":0.035},{"p":"0.800","x":0.226,"y":0.038},{"p":"0.800","x":0.232,"y":0.036},{"p":"0.800","x":0.238,"y":0.038},{"p":"0.800","x":0.244,"y":0.037},{"p":"0.800","x":0.252,"y":0.036},
{"p":"0.825","x":0.119,"y":0.024},{"p":"0.825","x":0.122,"y":0.028},{"p":"0.825","x":0.124,"y":0.022},{"p":"0.825","x":0.127,"y":0.026},{"p":"0.825","x":0.129,"y":0.030},{"p":"0.825","x":0.131,"y":0.024},{"p":"0.825","x":0.133,"y":0.028},{"p":"0.825","x":0.135,"y":0.022},{"p":"0.825","x":0.137,"y":0.027},{"p":"0.825","x":0.139,"y":0.025},{"p":"0.825","x":0.141,"y":0.023},{"p":"0.825","x":0.144,"y":0.022},{"p":"0.825","x":0.163,"y":0.027},{"p":"0.825","x":0.228,"y":0.034},{"p":"0.825","x":0.248,"y":0.034},
{"p":"0.850","x":0.112,"y":0.022},{"p":"0.850","x":0.117,"y":0.021},{"p":"0.850","x":0.127,"y":0.025},{"p":"0.850","x":0.129,"y":0.023},{"p":"0.850","x":0.158,"y":0.027},{"p":"0.850","x":0.161,"y":0.023},{"p":"0.850","x":0.163,"y":0.026},{"p":"0.850","x":0.173,"y":0.027},{"p":"0.850","x":0.193,"y":0.028},{"p":"0.850","x":0.199,"y":0.028},{"p":"0.850","x":0.203,"y":0.027},{"p":"0.850","x":0.210,"y":0.027}]},
"concat":[
{"width":247,"height":244,"layer":[
{"data":{"name":"pts"},"transform":[{"filter":"datum.p=='0.325'"}],"mark":{"type":"circle","size":26,"color":"black","opacity":1},"encoding":{"x":{"field":"x","type":"quantitative","scale":{"domain":[0,0.4],"nice":false},"axis":{"values":[0,0.1,0.2,0.3,0.4],"labels":false,"title":null}},"y":{"field":"y","type":"quantitative","scale":{"domain":[0,0.4],"nice":false},"axis":{"values":[0,0.1,0.2,0.3,0.4],"title":null,"format":".1~f","labelFlush":true,"labelPadding":18}}}},
{"data":{"name":"fit"},"transform":[{"filter":"datum.p=='0.325'"}],"mark":{"type":"rule","color":"#ff0000","strokeWidth":1.1},"encoding":{"x":{"field":"x1","type":"quantitative","scale":{"domain":[0,0.4],"nice":false}},"y":{"field":"y1","type":"quantitative","scale":{"domain":[0,0.4],"nice":false}},"x2":{"field":"x2"},"y2":{"field":"y2"}}},
{"data":{"name":"lab"},"transform":[{"filter":"datum.p=='0.325'"}],"mark":{"type":"text","lineBreak":"\n","baseline":"top","align":"center","fontSize":20,"lineHeight":21.8,"font":"Liberation Serif","color":"black"},"encoding":{"x":{"datum":0.2,"type":"quantitative","scale":{"domain":[0,0.4],"nice":false}},"y":{"datum":0.3802,"type":"quantitative","scale":{"domain":[0,0.4],"nice":false}},"text":{"field":"t"}}}]},
{"width":247,"height":244,"layer":[
{"data":{"name":"pts"},"transform":[{"filter":"datum.p=='0.350'"}],"mark":{"type":"circle","size":26,"color":"black","opacity":1},"encoding":{"x":{"field":"x","type":"quantitative","scale":{"domain":[0,0.4],"nice":false},"axis":{"values":[0,0.1,0.2,0.3,0.4],"labels":false,"title":null}},"y":{"field":"y","type":"quantitative","scale":{"domain":[0,0.4],"nice":false},"axis":{"values":[0,0.1,0.2,0.3,0.4],"labels":false,"title":null}}}},
{"data":{"name":"fit"},"transform":[{"filter":"datum.p=='0.350'"}],"mark":{"type":"rule","color":"#ff0000","strokeWidth":1.1},"encoding":{"x":{"field":"x1","type":"quantitative","scale":{"domain":[0,0.4],"nice":false}},"y":{"field":"y1","type":"quantitative","scale":{"domain":[0,0.4],"nice":false}},"x2":{"field":"x2"},"y2":{"field":"y2"}}},
{"data":{"name":"lab"},"transform":[{"filter":"datum.p=='0.350'"}],"mark":{"type":"text","lineBreak":"\n","baseline":"top","align":"center","fontSize":20,"lineHeight":21.8,"font":"Liberation Serif","color":"black"},"encoding":{"x":{"datum":0.2,"type":"quantitative","scale":{"domain":[0,0.4],"nice":false}},"y":{"datum":0.3802,"type":"quantitative","scale":{"domain":[0,0.4],"nice":false}},"text":{"field":"t"}}}]},
{"width":247,"height":244,"layer":[
{"data":{"name":"pts"},"transform":[{"filter":"datum.p=='0.375'"}],"mark":{"type":"circle","size":26,"color":"black","opacity":1},"encoding":{"x":{"field":"x","type":"quantitative","scale":{"domain":[0,0.4],"nice":false},"axis":{"values":[0,0.1,0.2,0.3,0.4],"labels":false,"title":null}},"y":{"field":"y","type":"quantitative","scale":{"domain":[0,0.4],"nice":false},"axis":{"values":[0,0.1,0.2,0.3,0.4],"labels":false,"title":null}}}},
{"data":{"name":"fit"},"transform":[{"filter":"datum.p=='0.375'"}],"mark":{"type":"rule","color":"#ff0000","strokeWidth":1.1},"encoding":{"x":{"field":"x1","type":"quantitative","scale":{"domain":[0,0.4],"nice":false}},"y":{"field":"y1","type":"quantitative","scale":{"domain":[0,0.4],"nice":false}},"x2":{"field":"x2"},"y2":{"field":"y2"}}},
{"data":{"name":"lab"},"transform":[{"filter":"datum.p=='0.375'"}],"mark":{"type":"text","lineBreak":"\n","baseline":"top","align":"center","fontSize":20,"lineHeight":21.8,"font":"Liberation Serif","color":"black"},"encoding":{"x":{"datum":0.2,"type":"quantitative","scale":{"domain":[0,0.4],"nice":false}},"y":{"datum":0.3836,"type":"quantitative","scale":{"domain":[0,0.4],"nice":false}},"text":{"field":"t"}}}]},
{"width":243,"height":244,"layer":[
{"data":{"name":"pts"},"transform":[{"filter":"datum.p=='0.400'"}],"mark":{"type":"circle","size":26,"color":"black","opacity":1},"encoding":{"x":{"field":"x","type":"quantitative","scale":{"domain":[0,0.3935],"nice":false},"axis":{"values":[0,0.1,0.2,0.3],"labels":false,"title":null}},"y":{"field":"y","type":"quantitative","scale":{"domain":[0,0.4],"nice":false},"axis":{"values":[0,0.1,0.2,0.3,0.4],"labels":false,"title":null}}}},
{"data":{"name":"fit"},"transform":[{"filter":"datum.p=='0.400'"}],"mark":{"type":"rule","color":"#ff0000","strokeWidth":1.1},"encoding":{"x":{"field":"x1","type":"quantitative","scale":{"domain":[0,0.3935],"nice":false}},"y":{"field":"y1","type":"quantitative","scale":{"domain":[0,0.4],"nice":false}},"x2":{"field":"x2"},"y2":{"field":"y2"}}},
{"data":{"name":"lab"},"transform":[{"filter":"datum.p=='0.400'"}],"mark":{"type":"text","lineBreak":"\n","baseline":"top","align":"center","fontSize":20,"lineHeight":21.8,"font":"Liberation Serif","color":"black"},"encoding":{"x":{"datum":0.2,"type":"quantitative","scale":{"domain":[0,0.3935],"nice":false}},"y":{"datum":0.3836,"type":"quantitative","scale":{"domain":[0,0.4],"nice":false}},"text":{"field":"t"}}}]},
{"width":247,"height":244,"layer":[
{"data":{"name":"pts"},"transform":[{"filter":"datum.p=='0.425'"}],"mark":{"type":"circle","size":26,"color":"black","opacity":1},"encoding":{"x":{"field":"x","type":"quantitative","scale":{"domain":[0,0.4],"nice":false},"axis":{"values":[0,0.1,0.2,0.3,0.4],"labels":false,"title":null}},"y":{"field":"y","type":"quantitative","scale":{"domain":[0,0.4],"nice":false},"axis":{"values":[0,0.1,0.2,0.3,0.4],"title":null,"format":".1~f","labelFlush":true,"labelPadding":18}}}},
{"data":{"name":"fit"},"transform":[{"filter":"datum.p=='0.425'"}],"mark":{"type":"rule","color":"#ff0000","strokeWidth":1.1},"encoding":{"x":{"field":"x1","type":"quantitative","scale":{"domain":[0,0.4],"nice":false}},"y":{"field":"y1","type":"quantitative","scale":{"domain":[0,0.4],"nice":false}},"x2":{"field":"x2"},"y2":{"field":"y2"}}},
{"data":{"name":"lab"},"transform":[{"filter":"datum.p=='0.425'"}],"mark":{"type":"text","lineBreak":"\n","baseline":"top","align":"center","fontSize":20,"lineHeight":21.8,"font":"Liberation Serif","color":"black"},"encoding":{"x":{"datum":0.2,"type":"quantitative","scale":{"domain":[0,0.4],"nice":false}},"y":{"datum":0.3802,"type":"quantitative","scale":{"domain":[0,0.4],"nice":false}},"text":{"field":"t"}}}]},
{"width":247,"height":244,"layer":[
{"data":{"name":"pts"},"transform":[{"filter":"datum.p=='0.450'"}],"mark":{"type":"circle","size":26,"color":"black","opacity":1},"encoding":{"x":{"field":"x","type":"quantitative","scale":{"domain":[0,0.4],"nice":false},"axis":{"values":[0,0.1,0.2,0.3,0.4],"labels":false,"title":null}},"y":{"field":"y","type":"quantitative","scale":{"domain":[0,0.4],"nice":false},"axis":{"values":[0,0.1,0.2,0.3,0.4],"labels":false,"title":null}}}},
{"data":{"name":"fit"},"transform":[{"filter":"datum.p=='0.450'"}],"mark":{"type":"rule","color":"#ff0000","strokeWidth":1.1},"encoding":{"x":{"field":"x1","type":"quantitative","scale":{"domain":[0,0.4],"nice":false}},"y":{"field":"y1","type":"quantitative","scale":{"domain":[0,0.4],"nice":false}},"x2":{"field":"x2"},"y2":{"field":"y2"}}},
{"data":{"name":"lab"},"transform":[{"filter":"datum.p=='0.450'"}],"mark":{"type":"text","lineBreak":"\n","baseline":"top","align":"center","fontSize":20,"lineHeight":21.8,"font":"Liberation Serif","color":"black"},"encoding":{"x":{"datum":0.2,"type":"quantitative","scale":{"domain":[0,0.4],"nice":false}},"y":{"datum":0.3716,"type":"quantitative","scale":{"domain":[0,0.4],"nice":false}},"text":{"field":"t"}}}]},
{"width":247,"height":244,"layer":[
{"data":{"name":"pts"},"transform":[{"filter":"datum.p=='0.475'"}],"mark":{"type":"circle","size":26,"color":"black","opacity":1},"encoding":{"x":{"field":"x","type":"quantitative","scale":{"domain":[0,0.4],"nice":false},"axis":{"values":[0,0.1,0.2,0.3,0.4],"labels":false,"title":null}},"y":{"field":"y","type":"quantitative","scale":{"domain":[0,0.4],"nice":false},"axis":{"values":[0,0.1,0.2,0.3,0.4],"labels":false,"title":null}}}},
{"data":{"name":"fit"},"transform":[{"filter":"datum.p=='0.475'"}],"mark":{"type":"rule","color":"#ff0000","strokeWidth":1.1},"encoding":{"x":{"field":"x1","type":"quantitative","scale":{"domain":[0,0.4],"nice":false}},"y":{"field":"y1","type":"quantitative","scale":{"domain":[0,0.4],"nice":false}},"x2":{"field":"x2"},"y2":{"field":"y2"}}},
{"data":{"name":"lab"},"transform":[{"filter":"datum.p=='0.475'"}],"mark":{"type":"text","lineBreak":"\n","baseline":"top","align":"center","fontSize":20,"lineHeight":21.8,"font":"Liberation Serif","color":"black"},"encoding":{"x":{"datum":0.2,"type":"quantitative","scale":{"domain":[0,0.4],"nice":false}},"y":{"datum":0.3749,"type":"quantitative","scale":{"domain":[0,0.4],"nice":false}},"text":{"field":"t"}}}]},
{"width":243,"height":244,"layer":[
{"data":{"name":"pts"},"transform":[{"filter":"datum.p=='0.500'"}],"mark":{"type":"circle","size":26,"color":"black","opacity":1},"encoding":{"x":{"field":"x","type":"quantitative","scale":{"domain":[0,0.3935],"nice":false},"axis":{"values":[0,0.1,0.2,0.3],"labels":false,"title":null}},"y":{"field":"y","type":"quantitative","scale":{"domain":[0,0.4],"nice":false},"axis":{"values":[0,0.1,0.2,0.3,0.4],"labels":false,"title":null}}}},
{"data":{"name":"fit"},"transform":[{"filter":"datum.p=='0.500'"}],"mark":{"type":"rule","color":"#ff0000","strokeWidth":1.1},"encoding":{"x":{"field":"x1","type":"quantitative","scale":{"domain":[0,0.3935],"nice":false}},"y":{"field":"y1","type":"quantitative","scale":{"domain":[0,0.4],"nice":false}},"x2":{"field":"x2"},"y2":{"field":"y2"}}},
{"data":{"name":"lab"},"transform":[{"filter":"datum.p=='0.500'"}],"mark":{"type":"text","lineBreak":"\n","baseline":"top","align":"center","fontSize":20,"lineHeight":21.8,"font":"Liberation Serif","color":"black"},"encoding":{"x":{"datum":0.2,"type":"quantitative","scale":{"domain":[0,0.3935],"nice":false}},"y":{"datum":0.37,"type":"quantitative","scale":{"domain":[0,0.4],"nice":false}},"text":{"field":"t"}}}]},
{"width":247,"height":244,"layer":[
{"data":{"name":"pts"},"transform":[{"filter":"datum.p=='0.525'"}],"mark":{"type":"circle","size":26,"color":"black","opacity":1},"encoding":{"x":{"field":"x","type":"quantitative","scale":{"domain":[0,0.4],"nice":false},"axis":{"values":[0,0.1,0.2,0.3,0.4],"labels":false,"title":null}},"y":{"field":"y","type":"quantitative","scale":{"domain":[0,0.4],"nice":false},"axis":{"values":[0,0.1,0.2,0.3,0.4],"format":".1~f","labelFlush":true,"labelPadding":18,"title":"Atmospherically corrected surface reflectance in band 2 (0.67 μm)","titleX":-61,"titleY":273,"titleAngle":-90,"titleBaseline":"middle","titleAlign":"center","titleFontSize":23}}}},
{"data":{"name":"fit"},"transform":[{"filter":"datum.p=='0.525'"}],"mark":{"type":"rule","color":"#ff0000","strokeWidth":1.1},"encoding":{"x":{"field":"x1","type":"quantitative","scale":{"domain":[0,0.4],"nice":false}},"y":{"field":"y1","type":"quantitative","scale":{"domain":[0,0.4],"nice":false}},"x2":{"field":"x2"},"y2":{"field":"y2"}}},
{"data":{"name":"lab"},"transform":[{"filter":"datum.p=='0.525'"}],"mark":{"type":"text","lineBreak":"\n","baseline":"top","align":"center","fontSize":20,"lineHeight":21.8,"font":"Liberation Serif","color":"black"},"encoding":{"x":{"datum":0.2,"type":"quantitative","scale":{"domain":[0,0.4],"nice":false}},"y":{"datum":0.3766,"type":"quantitative","scale":{"domain":[0,0.4],"nice":false}},"text":{"field":"t"}}}]},
{"width":247,"height":244,"layer":[
{"data":{"name":"pts"},"transform":[{"filter":"datum.p=='0.550'"}],"mark":{"type":"circle","size":26,"color":"black","opacity":1},"encoding":{"x":{"field":"x","type":"quantitative","scale":{"domain":[0,0.4],"nice":false},"axis":{"values":[0,0.1,0.2,0.3,0.4],"labels":false,"title":null}},"y":{"field":"y","type":"quantitative","scale":{"domain":[0,0.4],"nice":false},"axis":{"values":[0,0.1,0.2,0.3,0.4],"labels":false,"title":null}}}},
{"data":{"name":"fit"},"transform":[{"filter":"datum.p=='0.550'"}],"mark":{"type":"rule","color":"#ff0000","strokeWidth":1.1},"encoding":{"x":{"field":"x1","type":"quantitative","scale":{"domain":[0,0.4],"nice":false}},"y":{"field":"y1","type":"quantitative","scale":{"domain":[0,0.4],"nice":false}},"x2":{"field":"x2"},"y2":{"field":"y2"}}},
{"data":{"name":"lab"},"transform":[{"filter":"datum.p=='0.550'"}],"mark":{"type":"text","lineBreak":"\n","baseline":"top","align":"center","fontSize":20,"lineHeight":21.8,"font":"Liberation Serif","color":"black"},"encoding":{"x":{"datum":0.2,"type":"quantitative","scale":{"domain":[0,0.4],"nice":false}},"y":{"datum":0.3802,"type":"quantitative","scale":{"domain":[0,0.4],"nice":false}},"text":{"field":"t"}}}]},
{"width":247,"height":244,"layer":[
{"data":{"name":"pts"},"transform":[{"filter":"datum.p=='0.575'"}],"mark":{"type":"circle","size":26,"color":"black","opacity":1},"encoding":{"x":{"field":"x","type":"quantitative","scale":{"domain":[0,0.4],"nice":false},"axis":{"values":[0,0.1,0.2,0.3,0.4],"labels":false,"title":null}},"y":{"field":"y","type":"quantitative","scale":{"domain":[0,0.4],"nice":false},"axis":{"values":[0,0.1,0.2,0.3,0.4],"labels":false,"title":null}}}},
{"data":{"name":"fit"},"transform":[{"filter":"datum.p=='0.575'"}],"mark":{"type":"rule","color":"#ff0000","strokeWidth":1.1},"encoding":{"x":{"field":"x1","type":"quantitative","scale":{"domain":[0,0.4],"nice":false}},"y":{"field":"y1","type":"quantitative","scale":{"domain":[0,0.4],"nice":false}},"x2":{"field":"x2"},"y2":{"field":"y2"}}},
{"data":{"name":"lab"},"transform":[{"filter":"datum.p=='0.575'"}],"mark":{"type":"text","lineBreak":"\n","baseline":"top","align":"center","fontSize":20,"lineHeight":21.8,"font":"Liberation Serif","color":"black"},"encoding":{"x":{"datum":0.2,"type":"quantitative","scale":{"domain":[0,0.4],"nice":false}},"y":{"datum":0.3802,"type":"quantitative","scale":{"domain":[0,0.4],"nice":false}},"text":{"field":"t"}}}]},
{"width":243,"height":244,"layer":[
{"data":{"name":"pts"},"transform":[{"filter":"datum.p=='0.600'"}],"mark":{"type":"circle","size":26,"color":"black","opacity":1},"encoding":{"x":{"field":"x","type":"quantitative","scale":{"domain":[0,0.3935],"nice":false},"axis":{"values":[0,0.1,0.2,0.3],"labels":false,"title":null}},"y":{"field":"y","type":"quantitative","scale":{"domain":[0,0.4],"nice":false},"axis":{"values":[0,0.1,0.2,0.3,0.4],"labels":false,"title":null}}}},
{"data":{"name":"fit"},"transform":[{"filter":"datum.p=='0.600'"}],"mark":{"type":"rule","color":"#ff0000","strokeWidth":1.1},"encoding":{"x":{"field":"x1","type":"quantitative","scale":{"domain":[0,0.3935],"nice":false}},"y":{"field":"y1","type":"quantitative","scale":{"domain":[0,0.4],"nice":false}},"x2":{"field":"x2"},"y2":{"field":"y2"}}},
{"data":{"name":"lab"},"transform":[{"filter":"datum.p=='0.600'"}],"mark":{"type":"text","lineBreak":"\n","baseline":"top","align":"center","fontSize":20,"lineHeight":21.8,"font":"Liberation Serif","color":"black"},"encoding":{"x":{"datum":0.2,"type":"quantitative","scale":{"domain":[0,0.3935],"nice":false}},"y":{"datum":0.3802,"type":"quantitative","scale":{"domain":[0,0.4],"nice":false}},"text":{"field":"t"}}}]},
{"width":247,"height":244,"layer":[
{"data":{"name":"pts"},"transform":[{"filter":"datum.p=='0.625'"}],"mark":{"type":"circle","size":26,"color":"black","opacity":1},"encoding":{"x":{"field":"x","type":"quantitative","scale":{"domain":[0,0.4],"nice":false},"axis":{"values":[0,0.1,0.2,0.3,0.4],"labels":false,"title":null}},"y":{"field":"y","type":"quantitative","scale":{"domain":[0,0.4],"nice":false},"axis":{"values":[0,0.1,0.2,0.3,0.4],"title":null,"format":".1~f","labelFlush":true,"labelPadding":18}}}},
{"data":{"name":"fit"},"transform":[{"filter":"datum.p=='0.625'"}],"mark":{"type":"rule","color":"#ff0000","strokeWidth":1.1},"encoding":{"x":{"field":"x1","type":"quantitative","scale":{"domain":[0,0.4],"nice":false}},"y":{"field":"y1","type":"quantitative","scale":{"domain":[0,0.4],"nice":false}},"x2":{"field":"x2"},"y2":{"field":"y2"}}},
{"data":{"name":"lab"},"transform":[{"filter":"datum.p=='0.625'"}],"mark":{"type":"text","lineBreak":"\n","baseline":"top","align":"center","fontSize":20,"lineHeight":21.8,"font":"Liberation Serif","color":"black"},"encoding":{"x":{"datum":0.2,"type":"quantitative","scale":{"domain":[0,0.4],"nice":false}},"y":{"datum":0.3785,"type":"quantitative","scale":{"domain":[0,0.4],"nice":false}},"text":{"field":"t"}}}]},
{"width":247,"height":244,"layer":[
{"data":{"name":"pts"},"transform":[{"filter":"datum.p=='0.650'"}],"mark":{"type":"circle","size":26,"color":"black","opacity":1},"encoding":{"x":{"field":"x","type":"quantitative","scale":{"domain":[0,0.4],"nice":false},"axis":{"values":[0,0.1,0.2,0.3,0.4],"labels":false,"title":null}},"y":{"field":"y","type":"quantitative","scale":{"domain":[0,0.4],"nice":false},"axis":{"values":[0,0.1,0.2,0.3,0.4],"labels":false,"title":null}}}},
{"data":{"name":"fit"},"transform":[{"filter":"datum.p=='0.650'"}],"mark":{"type":"rule","color":"#ff0000","strokeWidth":1.1},"encoding":{"x":{"field":"x1","type":"quantitative","scale":{"domain":[0,0.4],"nice":false}},"y":{"field":"y1","type":"quantitative","scale":{"domain":[0,0.4],"nice":false}},"x2":{"field":"x2"},"y2":{"field":"y2"}}},
{"data":{"name":"lab"},"transform":[{"filter":"datum.p=='0.650'"}],"mark":{"type":"text","lineBreak":"\n","baseline":"top","align":"center","fontSize":20,"lineHeight":21.8,"font":"Liberation Serif","color":"black"},"encoding":{"x":{"datum":0.2,"type":"quantitative","scale":{"domain":[0,0.4],"nice":false}},"y":{"datum":0.3785,"type":"quantitative","scale":{"domain":[0,0.4],"nice":false}},"text":{"field":"t"}}}]},
{"width":247,"height":244,"layer":[
{"data":{"name":"pts"},"transform":[{"filter":"datum.p=='0.675'"}],"mark":{"type":"circle","size":26,"color":"black","opacity":1},"encoding":{"x":{"field":"x","type":"quantitative","scale":{"domain":[0,0.4],"nice":false},"axis":{"values":[0,0.1,0.2,0.3,0.4],"labels":false,"title":null}},"y":{"field":"y","type":"quantitative","scale":{"domain":[0,0.4],"nice":false},"axis":{"values":[0,0.1,0.2,0.3,0.4],"labels":false,"title":null}}}},
{"data":{"name":"fit"},"transform":[{"filter":"datum.p=='0.675'"}],"mark":{"type":"rule","color":"#ff0000","strokeWidth":1.1},"encoding":{"x":{"field":"x1","type":"quantitative","scale":{"domain":[0,0.4],"nice":false}},"y":{"field":"y1","type":"quantitative","scale":{"domain":[0,0.4],"nice":false}},"x2":{"field":"x2"},"y2":{"field":"y2"}}},
{"data":{"name":"lab"},"transform":[{"filter":"datum.p=='0.675'"}],"mark":{"type":"text","lineBreak":"\n","baseline":"top","align":"center","fontSize":20,"lineHeight":21.8,"font":"Liberation Serif","color":"black"},"encoding":{"x":{"datum":0.2,"type":"quantitative","scale":{"domain":[0,0.4],"nice":false}},"y":{"datum":0.3785,"type":"quantitative","scale":{"domain":[0,0.4],"nice":false}},"text":{"field":"t"}}}]},
{"width":243,"height":244,"layer":[
{"data":{"name":"pts"},"transform":[{"filter":"datum.p=='0.700'"}],"mark":{"type":"circle","size":26,"color":"black","opacity":1},"encoding":{"x":{"field":"x","type":"quantitative","scale":{"domain":[0,0.3935],"nice":false},"axis":{"values":[0,0.1,0.2,0.3],"labels":false,"title":null}},"y":{"field":"y","type":"quantitative","scale":{"domain":[0,0.4],"nice":false},"axis":{"values":[0,0.1,0.2,0.3,0.4],"labels":false,"title":null}}}},
{"data":{"name":"fit"},"transform":[{"filter":"datum.p=='0.700'"}],"mark":{"type":"rule","color":"#ff0000","strokeWidth":1.1},"encoding":{"x":{"field":"x1","type":"quantitative","scale":{"domain":[0,0.3935],"nice":false}},"y":{"field":"y1","type":"quantitative","scale":{"domain":[0,0.4],"nice":false}},"x2":{"field":"x2"},"y2":{"field":"y2"}}},
{"data":{"name":"lab"},"transform":[{"filter":"datum.p=='0.700'"}],"mark":{"type":"text","lineBreak":"\n","baseline":"top","align":"center","fontSize":20,"lineHeight":21.8,"font":"Liberation Serif","color":"black"},"encoding":{"x":{"datum":0.2,"type":"quantitative","scale":{"domain":[0,0.3935],"nice":false}},"y":{"datum":0.3785,"type":"quantitative","scale":{"domain":[0,0.4],"nice":false}},"text":{"field":"t"}}}]},
{"width":247,"height":244,"layer":[
{"data":{"name":"pts"},"transform":[{"filter":"datum.p=='0.725'"}],"mark":{"type":"circle","size":26,"color":"black","opacity":1},"encoding":{"x":{"field":"x","type":"quantitative","scale":{"domain":[0,0.4],"nice":false},"axis":{"values":[0,0.1,0.2,0.3,0.4],"labels":false,"title":null}},"y":{"field":"y","type":"quantitative","scale":{"domain":[0,0.4],"nice":false},"axis":{"values":[0,0.1,0.2,0.3,0.4],"title":null,"format":".1~f","labelFlush":true,"labelPadding":18}}}},
{"data":{"name":"fit"},"transform":[{"filter":"datum.p=='0.725'"}],"mark":{"type":"rule","color":"#ff0000","strokeWidth":1.1},"encoding":{"x":{"field":"x1","type":"quantitative","scale":{"domain":[0,0.4],"nice":false}},"y":{"field":"y1","type":"quantitative","scale":{"domain":[0,0.4],"nice":false}},"x2":{"field":"x2"},"y2":{"field":"y2"}}},
{"data":{"name":"lab"},"transform":[{"filter":"datum.p=='0.725'"}],"mark":{"type":"text","lineBreak":"\n","baseline":"top","align":"center","fontSize":20,"lineHeight":21.8,"font":"Liberation Serif","color":"black"},"encoding":{"x":{"datum":0.2,"type":"quantitative","scale":{"domain":[0,0.4],"nice":false}},"y":{"datum":0.37,"type":"quantitative","scale":{"domain":[0,0.4],"nice":false}},"text":{"field":"t"}}}]},
{"width":247,"height":244,"layer":[
{"data":{"name":"pts"},"transform":[{"filter":"datum.p=='0.750'"}],"mark":{"type":"circle","size":26,"color":"black","opacity":1},"encoding":{"x":{"field":"x","type":"quantitative","scale":{"domain":[0,0.4],"nice":false},"axis":{"values":[0,0.1,0.2,0.3,0.4],"labels":false,"title":null}},"y":{"field":"y","type":"quantitative","scale":{"domain":[0,0.4],"nice":false},"axis":{"values":[0,0.1,0.2,0.3,0.4],"labels":false,"title":null}}}},
{"data":{"name":"fit"},"transform":[{"filter":"datum.p=='0.750'"}],"mark":{"type":"rule","color":"#ff0000","strokeWidth":1.1},"encoding":{"x":{"field":"x1","type":"quantitative","scale":{"domain":[0,0.4],"nice":false}},"y":{"field":"y1","type":"quantitative","scale":{"domain":[0,0.4],"nice":false}},"x2":{"field":"x2"},"y2":{"field":"y2"}}},
{"data":{"name":"lab"},"transform":[{"filter":"datum.p=='0.750'"}],"mark":{"type":"text","lineBreak":"\n","baseline":"top","align":"center","fontSize":20,"lineHeight":21.8,"font":"Liberation Serif","color":"black"},"encoding":{"x":{"datum":0.2,"type":"quantitative","scale":{"domain":[0,0.4],"nice":false}},"y":{"datum":0.3767,"type":"quantitative","scale":{"domain":[0,0.4],"nice":false}},"text":{"field":"t"}}}]},
{"width":247,"height":244,"layer":[
{"data":{"name":"pts"},"transform":[{"filter":"datum.p=='0.775'"}],"mark":{"type":"circle","size":26,"color":"black","opacity":1},"encoding":{"x":{"field":"x","type":"quantitative","scale":{"domain":[0,0.4],"nice":false},"axis":{"values":[0,0.1,0.2,0.3,0.4],"labels":false,"title":null}},"y":{"field":"y","type":"quantitative","scale":{"domain":[0,0.4],"nice":false},"axis":{"values":[0,0.1,0.2,0.3,0.4],"labels":false,"title":null}}}},
{"data":{"name":"fit"},"transform":[{"filter":"datum.p=='0.775'"}],"mark":{"type":"rule","color":"#ff0000","strokeWidth":1.1},"encoding":{"x":{"field":"x1","type":"quantitative","scale":{"domain":[0,0.4],"nice":false}},"y":{"field":"y1","type":"quantitative","scale":{"domain":[0,0.4],"nice":false}},"x2":{"field":"x2"},"y2":{"field":"y2"}}},
{"data":{"name":"lab"},"transform":[{"filter":"datum.p=='0.775'"}],"mark":{"type":"text","lineBreak":"\n","baseline":"top","align":"center","fontSize":20,"lineHeight":21.8,"font":"Liberation Serif","color":"black"},"encoding":{"x":{"datum":0.2,"type":"quantitative","scale":{"domain":[0,0.4],"nice":false}},"y":{"datum":0.3767,"type":"quantitative","scale":{"domain":[0,0.4],"nice":false}},"text":{"field":"t"}}}]},
{"width":243,"height":244,"layer":[
{"data":{"name":"pts"},"transform":[{"filter":"datum.p=='0.800'"}],"mark":{"type":"circle","size":26,"color":"black","opacity":1},"encoding":{"x":{"field":"x","type":"quantitative","scale":{"domain":[0,0.3935],"nice":false},"axis":{"values":[0,0.1,0.2,0.3],"labels":false,"title":null}},"y":{"field":"y","type":"quantitative","scale":{"domain":[0,0.4],"nice":false},"axis":{"values":[0,0.1,0.2,0.3,0.4],"labels":false,"title":null}}}},
{"data":{"name":"fit"},"transform":[{"filter":"datum.p=='0.800'"}],"mark":{"type":"rule","color":"#ff0000","strokeWidth":1.1},"encoding":{"x":{"field":"x1","type":"quantitative","scale":{"domain":[0,0.3935],"nice":false}},"y":{"field":"y1","type":"quantitative","scale":{"domain":[0,0.4],"nice":false}},"x2":{"field":"x2"},"y2":{"field":"y2"}}},
{"data":{"name":"lab"},"transform":[{"filter":"datum.p=='0.800'"}],"mark":{"type":"text","lineBreak":"\n","baseline":"top","align":"center","fontSize":20,"lineHeight":21.8,"font":"Liberation Serif","color":"black"},"encoding":{"x":{"datum":0.2,"type":"quantitative","scale":{"domain":[0,0.3935],"nice":false}},"y":{"datum":0.3733,"type":"quantitative","scale":{"domain":[0,0.4],"nice":false}},"text":{"field":"t"}}}]},
{"width":247,"height":244,"data":{"values":[{"k":1}]},"mark":{"type":"point","opacity":0},"encoding":{},"view":{"stroke":null}},
{"width":247,"height":244,"layer":[
{"data":{"name":"pts"},"transform":[{"filter":"datum.p=='0.825'"}],"mark":{"type":"circle","size":26,"color":"black","opacity":1},"encoding":{"x":{"field":"x","type":"quantitative","scale":{"domain":[0,0.4],"nice":false},"axis":{"values":[0,0.1,0.2,0.3,0.4],"format":".1~f","labelFlush":false,"labelPadding":21,"labelExpr":"datum.value > 0.35 ? '' : datum.label","title":"Top-of-atmosphere reflectance in band 4 (1.6 μm)","titleX":268.5,"titleY":53,"titleBaseline":"middle","titleAlign":"center","titleFontSize":25}},"y":{"field":"y","type":"quantitative","scale":{"domain":[0,0.4],"nice":false},"axis":{"values":[0,0.1,0.2,0.3,0.4],"title":null,"format":".1~f","labelFlush":true,"labelPadding":18}}}},
{"data":{"name":"fit"},"transform":[{"filter":"datum.p=='0.825'"}],"mark":{"type":"rule","color":"#ff0000","strokeWidth":1.1},"encoding":{"x":{"field":"x1","type":"quantitative","scale":{"domain":[0,0.4],"nice":false}},"y":{"field":"y1","type":"quantitative","scale":{"domain":[0,0.4],"nice":false}},"x2":{"field":"x2"},"y2":{"field":"y2"}}},
{"data":{"name":"lab"},"transform":[{"filter":"datum.p=='0.825'"}],"mark":{"type":"text","lineBreak":"\n","baseline":"top","align":"center","fontSize":20,"lineHeight":21.8,"font":"Liberation Serif","color":"black"},"encoding":{"x":{"datum":0.2,"type":"quantitative","scale":{"domain":[0,0.4],"nice":false}},"y":{"datum":0.3767,"type":"quantitative","scale":{"domain":[0,0.4],"nice":false}},"text":{"field":"t"}}}]},
{"width":247,"height":244,"layer":[
{"data":{"name":"pts"},"transform":[{"filter":"datum.p=='0.850'"}],"mark":{"type":"circle","size":26,"color":"black","opacity":1},"encoding":{"x":{"field":"x","type":"quantitative","scale":{"domain":[0,0.4],"nice":false},"axis":{"values":[0,0.1,0.2,0.3,0.4],"format":".1~f","labelFlush":false,"labelPadding":21,"title":null}},"y":{"field":"y","type":"quantitative","scale":{"domain":[0,0.4],"nice":false},"axis":{"values":[0,0.1,0.2,0.3,0.4],"labels":false,"title":null}}}},
{"data":{"name":"fit"},"transform":[{"filter":"datum.p=='0.850'"}],"mark":{"type":"rule","color":"#ff0000","strokeWidth":1.1},"encoding":{"x":{"field":"x1","type":"quantitative","scale":{"domain":[0,0.4],"nice":false}},"y":{"field":"y1","type":"quantitative","scale":{"domain":[0,0.4],"nice":false}},"x2":{"field":"x2"},"y2":{"field":"y2"}}},
{"data":{"name":"lab"},"transform":[{"filter":"datum.p=='0.850'"}],"mark":{"type":"text","lineBreak":"\n","baseline":"top","align":"center","fontSize":20,"lineHeight":21.8,"font":"Liberation Serif","color":"black"},"encoding":{"x":{"datum":0.2,"type":"quantitative","scale":{"domain":[0,0.4],"nice":false}},"y":{"datum":0.3767,"type":"quantitative","scale":{"domain":[0,0.4],"nice":false}},"text":{"field":"t"}}}]}
],
"config":{"view":{"stroke":"#222","strokeWidth":1},"axis":{"domain":false,"grid":false,"ticks":true,"tickSize":-6,"tickColor":"#222","tickWidth":1,"labelFont":"Liberation Serif","labelFontSize":24,"labelColor":"black","titleFont":"Liberation Serif","titleFontWeight":"bold","titleColor":"black","titleFontSize":23}}}
